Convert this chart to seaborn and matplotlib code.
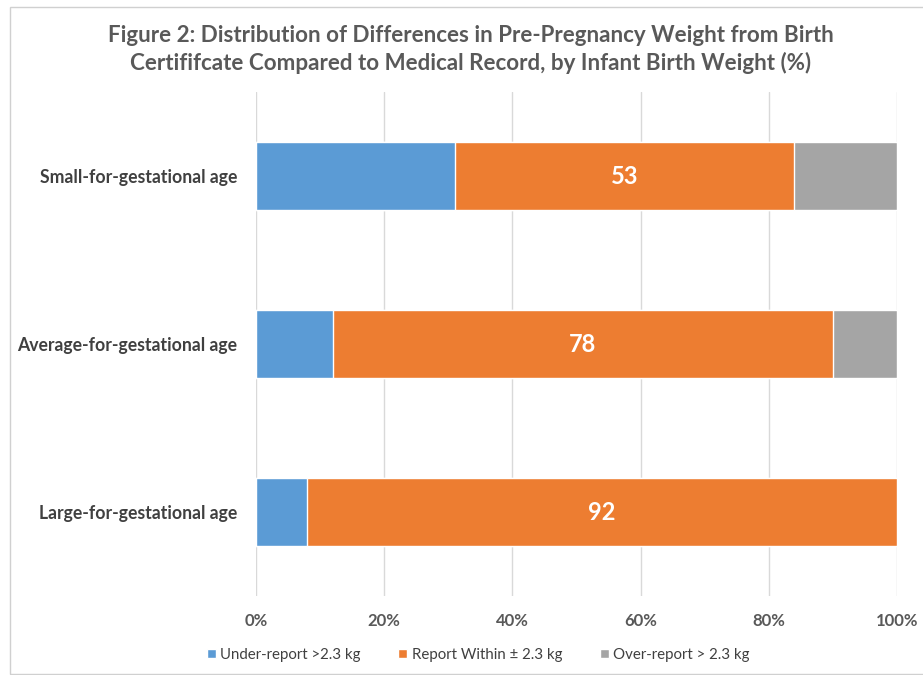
import pandas as pd
import matplotlib.pyplot as plt
import seaborn as sns
from matplotlib.patches import Rectangle, Patch

# Datos (%)
grupos = ['Small-for-gestational age', 'Average-for-gestational age', 'Large-for-gestational age']
under = [31, 12, 8]
within = [53, 78, 92]
over = [16, 10, 0]
series = ['Under-report >2.3 kg', 'Report Within \u00b1 2.3 kg', 'Over-report > 2.3 kg']
colores = ['#5B9BD5', '#ED7D31', '#A5A5A5']

df = pd.DataFrame({'grupo': grupos, 'under': under, 'within': within, 'over': over})
df['c1'] = df['under']
df['c2'] = df['under'] + df['within']
df['c3'] = df['c2'] + df['over']

sns.set_theme(style="white")
plt.rcParams['font.family'] = ['Lato', 'DejaVu Sans']

fig = plt.figure(figsize=(9.23, 6.75), dpi=100)
ax = fig.add_axes([256/923, 79/675, 641/923, 504/675])

# barras apiladas: se dibuja el total acumulado de mayor a menor
for col, color in zip(['c3', 'c2', 'c1'], colores[::-1]):
    sns.barplot(data=df, x=col, y='grupo', color=color, width=0.4,
                saturation=1, orient='h', ax=ax, zorder=2)

# etiqueta del segmento central
for i, row in df.iterrows():
    ax.text(row['under'] + row['within'] / 2, i, str(row['within']),
            ha='center', va='center', color='white', fontsize=17, fontweight='bold', zorder=3)

ax.set_xlim(0, 100)
ax.set_xticks(range(0, 101, 20))
ax.set_xticklabels([f'{v}%' for v in range(0, 101, 20)])
ax.xaxis.grid(True, color='#D9D9D9', lw=1, zorder=0)
ax.set_xlabel('')
ax.set_ylabel('')
for s in ax.spines.values():
    s.set_visible(False)
ax.tick_params(axis='x', length=0, pad=12, labelsize=12, labelcolor='#595959')
ax.tick_params(axis='y', length=0, pad=13.5, labelsize=12.7, labelcolor='#404040')
for lbl in ax.get_xticklabels() + ax.get_yticklabels():
    lbl.set_fontweight('bold')

fig.text(0.51, 0.927, 'Figure 2: Distribution of Differences in Pre-Pregnancy Weight from Birth\n'
         'Certififcate Compared to Medical Record, by Infant Birth Weight (%)',
         ha='center', va='center', fontsize=16.1, fontweight='bold', color='#595959',
         linespacing=1.3)

handles = [Patch(facecolor=c, label=s) for c, s in zip(colores, series)]
fig.legend(handles=handles, loc='center', bbox_to_anchor=(0.518, 0.03), ncol=3, frameon=False,
           fontsize=10.8, handlelength=0.6, handleheight=0.6, handletextpad=0.3, columnspacing=2.5,
           labelcolor='#404040')

fig.patches.append(Rectangle((10/923, 0.002), 1.5, 1 - 7/675 - 0.002, transform=fig.transFigure,
                             fill=False, edgecolor='#D0D0D0', lw=1))

fig.savefig('out.png', dpi=100)
